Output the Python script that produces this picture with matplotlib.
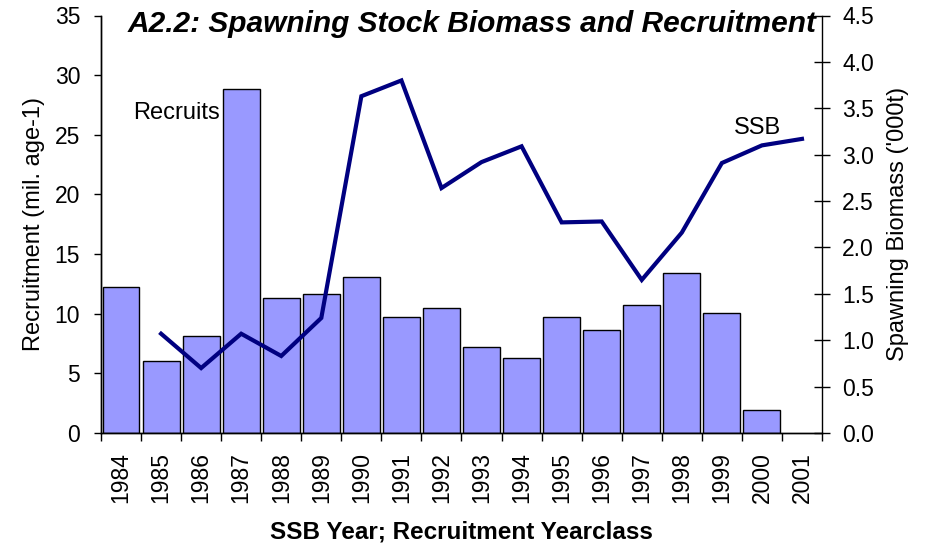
import matplotlib
matplotlib.use("Agg")
import matplotlib.pyplot as plt
import numpy as np

plt.rcParams['font.family'] = ['Liberation Sans', 'DejaVu Sans']

years = ['1984', '1985', '1986', '1987', '1988', '1989', '1990', '1991', '1992',
         '1993', '1994', '1995', '1996', '1997', '1998', '1999', '2000', '2001']
recruits = [12.26, 6.06, 8.13, 28.8, 11.34, 11.62, 13.05, 9.70, 10.45,
            7.24, 6.31, 9.70, 8.66, 10.73, 13.44, 10.09, 1.96]
ssb_years = ['1985', '1986', '1987', '1988', '1989', '1990', '1991', '1992', '1993',
             '1994', '1995', '1996', '1997', '1998', '1999', '2000', '2001']
ssb = [1.07, 0.70, 1.07, 0.83, 1.24, 3.63, 3.80, 2.64, 2.92,
       3.09, 2.27, 2.28, 1.65, 2.16, 2.91, 3.10, 3.17]

fig = plt.figure(figsize=(9.36, 5.52), dpi=100)
W, H = 936, 552
ax = fig.add_axes([101.0 / W, 1 - 433 / H, (822 - 101.0) / W, (433 - 15.5) / H])

xpos = {y: i for i, y in enumerate(years)}
bx = [xpos[y] for y in years[:len(recruits)]]
ax.bar(bx, recruits, width=0.92, color='#9999FF', edgecolor='black', linewidth=1.0, zorder=2)

ax2 = ax.twinx()
lx = [xpos[y] for y in ssb_years]
ax2.plot(lx, ssb, color='#000080', linewidth=3.0, solid_joinstyle='miter', zorder=3)

ax.set_xlim(-0.5, len(years) - 0.5)
ax.set_ylim(0, 35)
ax2.set_ylim(0, 4.5)

ax.set_yticks(np.arange(0, 36, 5))
ax2.set_yticks(np.arange(0, 4.51, 0.5))
ax2.set_yticklabels([f'{v:.1f}' for v in np.arange(0, 4.51, 0.5)])

ax.set_xticks(range(len(years)))
ax.set_xticklabels(years, rotation=90, fontsize=16.5)
ax.tick_params(axis='x', which='major', length=0, pad=14)
ax.set_xticks(np.arange(-0.5, len(years), 1.0), minor=True)
ax.tick_params(axis='x', which='minor', length=6, width=1, direction='out', color='black')

ax.tick_params(axis='y', labelsize=16.5, length=5, width=1, direction='out', pad=10)
ax2.tick_params(axis='y', labelsize=16.5, length=11, width=1, direction='inout', pad=9)

for a in (ax, ax2):
    a.spines['top'].set_visible(False)
    for s in ('left', 'right', 'bottom'):
        a.spines[s].set_linewidth(1.0)
        a.spines[s].set_color('black')
ax.spines['right'].set_visible(False)

ax.set_ylabel('Recruitment (mil. age-1)', fontsize=17, labelpad=7)
ax2.set_ylabel("Spawning Biomass ('000t)", fontsize=17, labelpad=9)
ax.set_xlabel('SSB Year; Recruitment Yearclass', fontsize=17.5, fontweight='bold', labelpad=12)

fig.text(472 / W, 1 - 31.5 / H, 'A2.2: Spawning Stock Biomass and Recruitment',
         fontsize=21.5, fontweight='bold', fontstyle='italic', ha='center', va='baseline')

ax.text(1.38, 26.8, 'Recruits', fontsize=17, ha='center', va='center')
ax2.text(15.88, 3.29, 'SSB', fontsize=17, ha='center', va='center')

fig.savefig('out.png', dpi=100)
